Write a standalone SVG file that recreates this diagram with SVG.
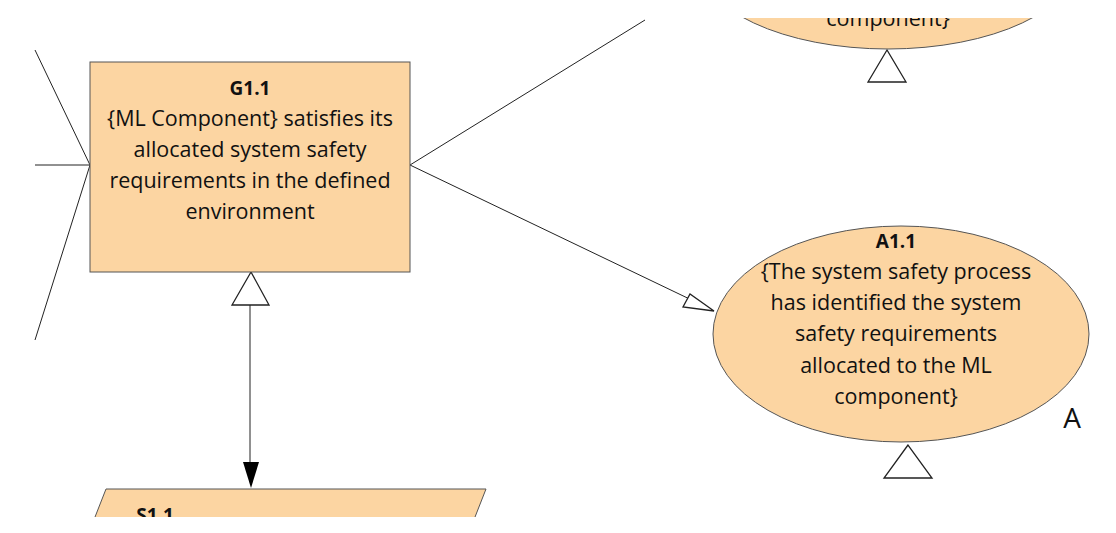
<svg xmlns="http://www.w3.org/2000/svg" width="1116" height="533" viewBox="0 0 1116 533">
<style>
.n{fill:#FCD5A2;stroke:#555;stroke-width:1}
.t{font-family:"Open Sans","Liberation Sans",sans-serif;font-size:21.5px;fill:#111;text-anchor:middle}
.b{font-weight:bold;font-size:19px}
.l{stroke:#222;stroke-width:1;fill:none}
.h{fill:#fff;stroke:#222;stroke-width:1.3}
</style>
<defs>
<clipPath id="ct"><rect x="0" y="18" width="1116" height="60"/></clipPath>
<clipPath id="cb"><rect x="0" y="0" width="1116" height="517"/></clipPath>
</defs>
<g id="connectors">
<line class="l" x1="35" y1="50" x2="90" y2="165"/>
<line class="l" x1="35" y1="165" x2="90" y2="165"/>
<line class="l" x1="35" y1="340" x2="90" y2="165"/>
<line class="l" x1="410" y1="165" x2="645" y2="20"/>
<line class="l" x1="410" y1="165" x2="700" y2="304"/>
<polygon class="h" points="714,311 683,307 690,294"/>
<line class="l" x1="250" y1="305" x2="250" y2="465"/>
<polygon points="243,462 259,462 251,488" fill="#000"/>
<polygon class="h" points="251,272 232,305 269,305"/>
<polygon class="h" points="887,50 868,82 906,82"/>
<polygon class="h" points="908,445 884,478 932,478"/>
</g>
<g id="top-node" clip-path="url(#ct)">
<ellipse class="n" cx="888" cy="-40" rx="190" ry="89"/>
<text class="t" x="888" y="26">component}</text>
</g>
<g id="G1.1">
<rect class="n" x="90" y="62" width="320" height="210"/>
<text class="t b" x="250" y="95">G1.1</text>
<text class="t" x="250" y="126">{ML Component} satisfies its</text>
<text class="t" x="250" y="157">allocated system safety</text>
<text class="t" x="250" y="188">requirements in the defined</text>
<text class="t" x="250" y="219">environment</text>
</g>
<g id="A1.1">
<ellipse class="n" cx="901" cy="334" rx="188" ry="108"/>
<text class="t b" x="896" y="248">A1.1</text>
<text class="t" x="896" y="279">{The system safety process</text>
<text class="t" x="896" y="310">has identified the system</text>
<text class="t" x="896" y="341">safety requirements</text>
<text class="t" x="896" y="373">allocated to the ML</text>
<text class="t" x="896" y="404">component}</text>
<text x="1072" y="428" style="font-family:'Open Sans','Liberation Sans',sans-serif;font-size:28px;fill:#111;text-anchor:middle">A</text>
</g>
<g id="S1.1" clip-path="url(#cb)">
<polygon class="n" points="106,489 486,489 466,540 86,540"/>
<text class="t b" x="155" y="522">S1.1</text>
</g>
</svg>
